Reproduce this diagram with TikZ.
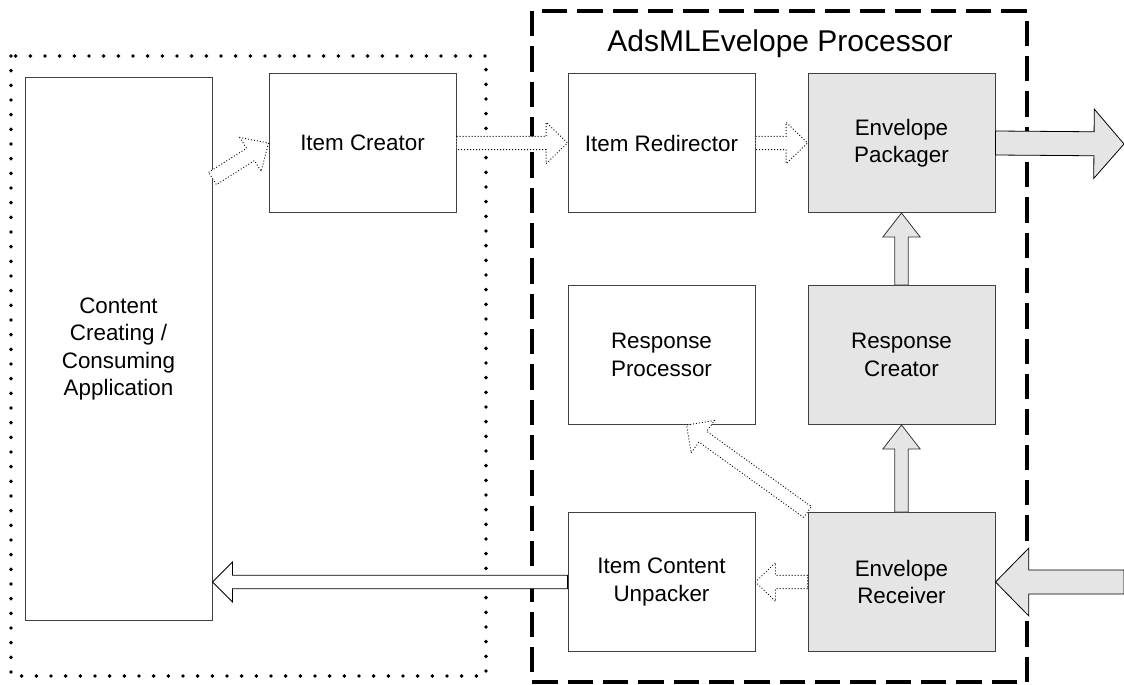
\documentclass[tikz,border=0pt]{standalone}
\usepackage{fontspec}
\setmainfont{Liberation Sans}
\usetikzlibrary{calc}

% block arrow: [style]{from}{to}{shaft half}{head half}{head length}
\newcommand\blockarrow[6][]{%
  \draw[#1] let \p1=(#2), \p2=(#3),
      \n1={atan2(\y2-\y1,\x2-\x1)}, \n2={veclen(\x2-\x1,\y2-\y1)} in
    [shift={(\p1)}, rotate=\n1]
    (0pt,#4) -- ({\n2*1pt-#6},#4) -- ({\n2*1pt-#6},#5) -- ({\n2*1pt},0pt)
    -- ({\n2*1pt-#6},-#5) -- ({\n2*1pt-#6},-#4) -- (0pt,-#4) -- cycle;}

\begin{document}
\begin{tikzpicture}[x=0.75pt, y=-0.75pt,
      box/.style={draw=black!75, line width=0.75pt, fill=white, align=center,
        minimum width=140.25pt, minimum height=104.25pt, inner sep=2pt,
        font=\fontsize{16.8}{20.5}\selectfont},
      greybox/.style={box, fill=black!10},
      dotarr/.style={draw=black, fill=white, line width=0.65pt,
        dash pattern=on 0.75pt off 1.5pt},
      plainarr/.style={draw=black, fill=white, line width=0.6pt},
      greyarr/.style={draw=black!80, fill=black!10, line width=0.6pt}]
      \useasboundingbox (0,0) rectangle (1124,685);
      % the two frames
      \draw[line width=2.9pt, line cap=round, dash pattern=on 0pt off 11pt]
        (11,56) rectangle (486,676);
      \draw[line width=2.4pt, dash pattern=on 19pt off 7.5pt]
        (532,11) rectangle (1027,682);
      \node[font=\fontsize{22.5}{26}\selectfont] (title) at (780,44) {AdsMLEvelope Processor};
      % boxes
      \node[box, minimum height=406.5pt] (app) at (118.5,349)
        {Content\\Creating /\\Consuming\\Application};
      \node[box] (itemcreator) at (362.5,143) {Item Creator};
      \node[box] (redirector) at (661.5,143) {Item Redirector};
      \node[greybox] (packager) at (901.5,143) {Envelope\\Packager};
      \node[box] (respproc) at (661.5,355) {Response\\Processor};
      \node[greybox] (respcreator) at (901.5,355) {Response\\Creator};
      \node[box] (unpacker) at (661.5,582) {Item Content\\Unpacker};
      \node[greybox] (receiver) at (901.5,582) {Envelope\\Receiver};
      % free ends
      \coordinate (apptail) at ($(app.north east)+(0,101)$);
      \coordinate (proctip) at ($(respproc.south)+(25,0)$);
      \coordinate (outtip) at (1124,144);
      \coordinate (intail) at (1124,582);
      % arrows
      \blockarrow[dotarr]{apptail}{itemcreator.west}{5.5pt}{15pt}{16pt}
      \blockarrow[dotarr]{itemcreator.east}{redirector.west}{5pt}{15.5pt}{16pt}
      \blockarrow[dotarr]{redirector.east}{packager.west}{5pt}{15.5pt}{16pt}
      \blockarrow[dotarr]{receiver.north west}{proctip}{5pt}{15pt}{15pt}
      \blockarrow[dotarr]{receiver.west}{unpacker.east}{5pt}{14.5pt}{15pt}
      \blockarrow[plainarr]{unpacker.west}{app.east |- unpacker.west}{5pt}{15pt}{15pt}
      \blockarrow[greyarr]{receiver.north}{respcreator.south}{5pt}{14pt}{18pt}
      \blockarrow[greyarr]{respcreator.north}{packager.south}{5pt}{14pt}{18pt}
      \blockarrow[plainarr, fill=black!10]{packager.east}{outtip}{9pt}{26pt}{22.5pt}
      \blockarrow[plainarr, fill=black!10]{intail}{receiver.east}{9pt}{25.5pt}{25pt}
    \end{tikzpicture}
\end{document}
